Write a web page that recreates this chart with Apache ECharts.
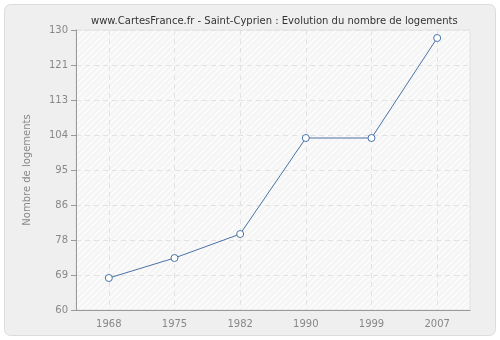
<!DOCTYPE html>
<html><head><meta charset="utf-8">
<script src="https://cdn.jsdelivr.net/npm/echarts@6/dist/echarts.min.js"></script>
<style>html,body{margin:0;padding:0;background:#fff}#c{width:500px;height:340px}</style>
</head><body><div id="c"></div>
<script>
var years = ['1968','1975','1982','1990','1999','2007'];
var logements = [68, 73, 79, 103, 103, 128];
var yTickLabels = ['60','69','78','86','95','104','113','121','130'];

var pc = document.createElement('canvas');
pc.width = 6; pc.height = 6;
var ctx = pc.getContext('2d');
ctx.fillStyle = '#f5f5f5'; ctx.fillRect(0,0,6,6);
ctx.strokeStyle = '#ffffff'; ctx.lineWidth = 1.2;
ctx.beginPath(); ctx.moveTo(0,6); ctx.lineTo(6,0); ctx.stroke();
ctx.beginPath(); ctx.moveTo(-3,3); ctx.lineTo(3,-3); ctx.stroke();
ctx.beginPath(); ctx.moveTo(3,9); ctx.lineTo(9,3); ctx.stroke();

var chart = echarts.init(document.getElementById('c'), null, {renderer:'canvas'});
chart.setOption({
  animation: false,
  backgroundColor: '#ffffff',
  graphic: [{
    type: 'rect', z: -10, silent: true,
    shape: {x: 4.5, y: 4.5, width: 491, height: 331, r: 6},
    style: {fill: '#efefef', stroke: '#dcdcdc', lineWidth: 1}
  }],
  title: {
    text: 'www.CartesFrance.fr - Saint-Cyprien : Evolution du nombre de logements',
    left: 86, top: 11,
    textStyle: {fontFamily: 'DejaVu Sans', fontSize: 10, fontWeight: 'normal', color: '#333'}
  },
  grid: {left: 76, right: 30, top: 30, bottom: 30, show: true,
    backgroundColor: {image: pc, repeat: 'repeat'}, borderColor: '#e2e2e2', borderWidth: 1},
  xAxis: {
    type: 'category', data: years, boundaryGap: true,
    axisLine: {lineStyle: {color: '#999', width: 1}},
    axisTick: {alignWithLabel: true, length: 5, lineStyle: {color: '#999'}},
    axisLabel: {color: '#888', fontFamily: 'DejaVu Sans', fontSize: 10, margin: 9},
    splitLine: {show: true, alignWithLabel: true, lineStyle: {color: '#e2e2e2', type: [5,4], width: 1}}
  },
  yAxis: {
    type: 'value', min: 60, max: 130, interval: 8.75,
    name: 'Nombre de logements', nameLocation: 'middle', nameGap: 44, nameRotate: 90,
    nameTextStyle: {color: '#888', fontFamily: 'DejaVu Sans', fontSize: 10},
    axisLine: {show: true, lineStyle: {color: '#999', width: 1}},
    axisTick: {show: true, length: 5, lineStyle: {color: '#999'}},
    axisLabel: {color: '#888', fontFamily: 'DejaVu Sans', fontSize: 10, margin: 8,
      formatter: function(v){ var i = Math.round((v-60)/8.75); return yTickLabels[i] !== undefined ? yTickLabels[i] : ''; }},
    splitLine: {show: true, lineStyle: {color: '#e2e2e2', type: [5,4], width: 1}}
  },
  series: [{
    type: 'line', data: logements,
    symbol: 'circle', symbolSize: 7,
    lineStyle: {color: '#4a73a6', width: 1},
    itemStyle: {color: '#ffffff', borderColor: '#4a73a6', borderWidth: 1}
  }]
});
</script></body></html>
